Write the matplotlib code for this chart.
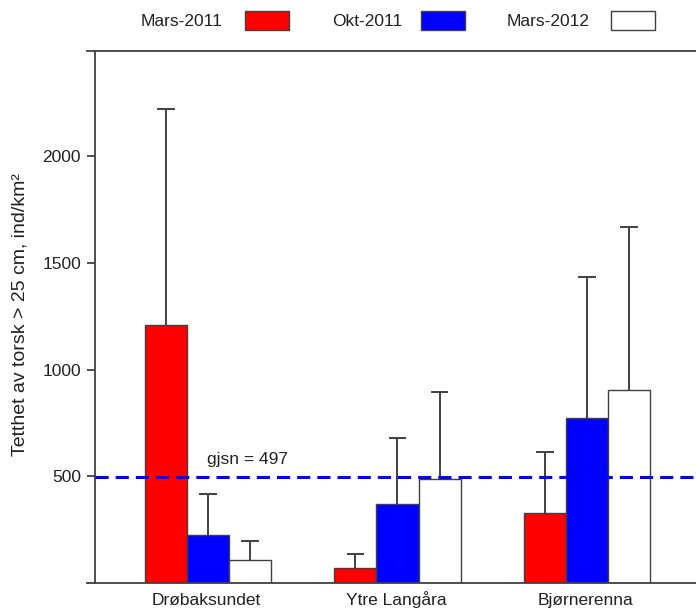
import matplotlib
matplotlib.use("Agg")
import matplotlib.pyplot as plt
import matplotlib.transforms as mtransforms
import numpy as np
from matplotlib.patches import Rectangle

plt.rcParams['font.family'] = ['Liberation Sans', 'DejaVu Sans']

sites = ["Drøbaksundet", "Ytre Langåra", "Bjørnerenna"]
series = ["Mars-2011", "Okt-2011", "Mars-2012"]
colors = ["#ff0000", "#0000ff", "#ffffff"]
values = {
    "Mars-2011": [1209, 72, 329],
    "Okt-2011": [225, 369, 775],
    "Mars-2012": [106, 486, 906],
}
upper = {
    "Mars-2011": [2223, 136, 615],
    "Okt-2011": [416, 678, 1434],
    "Mars-2012": [198, 895, 1668],
}
mean_val = 497
yticks = [500, 1000, 1500, 2000]

W, H = 696, 610
fig = plt.figure(figsize=(W / 100, H / 100), dpi=100)
ax_l, ax_r, ax_b, ax_t = 95, 696, 583, 51
ax = fig.add_axes([ax_l / W, (H - ax_b) / H, (ax_r - ax_l) / W, (ax_b - ax_t) / H])

unit = 42.1
xmin = (ax_l - 208) / unit
xmax = (ax_r - 208) / unit
ax.set_xlim(xmin, xmax)
ax.set_ylim(0, 2493)

lc = "#404040"
tc = "#222222"
fs = 12.5
group_centers = np.array([0, 4.5, 9.0])
for i, s in enumerate(series):
    xs = group_centers + (i - 1) * 1.0
    ax.bar(xs, values[s], width=1.0, color=colors[i], edgecolor=lc, linewidth=1.0, zorder=2)
    for x, v, u in zip(xs, values[s], upper[s]):
        ax.plot([x, x], [v, u], color=lc, lw=1.4, zorder=3, solid_capstyle='butt')
        ax.plot([x - 0.21, x + 0.21], [u, u], color=lc, lw=1.4, zorder=3, solid_capstyle='butt')

ax.axhline(mean_val, color="#0000ff", lw=2.2, dashes=(4.3, 2.3), zorder=4)
ax.text(-0.03, mean_val + 45, f"gjsn = {mean_val}", ha="left", va="bottom", fontsize=fs, color=tc)

for sp in ["top", "right", "bottom"]:
    ax.spines[sp].set_visible(False)
ax.spines["left"].set_color(lc)
ax.spines["left"].set_linewidth(1.3)
ext = 8 / (ax_r - ax_l)
for yy in [0, 1]:
    ax.plot([-ext, 1.01], [yy, yy], transform=ax.transAxes, color=lc, lw=1.3, clip_on=False)

ax.set_yticks(yticks)
ax.set_yticklabels([str(t) for t in yticks], fontsize=fs, color=tc)
ax.tick_params(axis='y', length=6, width=1.3, color=lc, pad=4)
ax.set_xticks(group_centers)
ax.set_xticklabels([])
ax.tick_params(axis='x', length=0)
blend = mtransforms.blended_transform_factory(ax.transData, fig.transFigure)
for gc, name in zip(group_centers, sites):
    ax.text(gc - 0.03, 1 - 605 / H, name, transform=blend,
            ha="center", va="baseline", fontsize=fs, color=tc)

fig.text(20 / W, 1 - 315 / H, "Tetthet av torsk > 25 cm, ind/km²", rotation=90,
         ha="center", va="center", fontsize=14, color=tc)

# legend along the top
leg_text = [(141, "Mars-2011"), (332, "Okt-2011"), (507, "Mars-2012")]
leg_box = [245, 421, 611]
for (tx, lab), bx, c in zip(leg_text, leg_box, colors):
    fig.text(tx / W, 1 - 21 / H, lab, ha="left", va="center", fontsize=fs, color=tc)
    fig.patches.append(Rectangle((bx / W, 1 - 30 / H), 44 / W, 19 / H, transform=fig.transFigure,
                                 facecolor=c, edgecolor=lc, linewidth=1.0))

fig.savefig("out.png", dpi=100)
